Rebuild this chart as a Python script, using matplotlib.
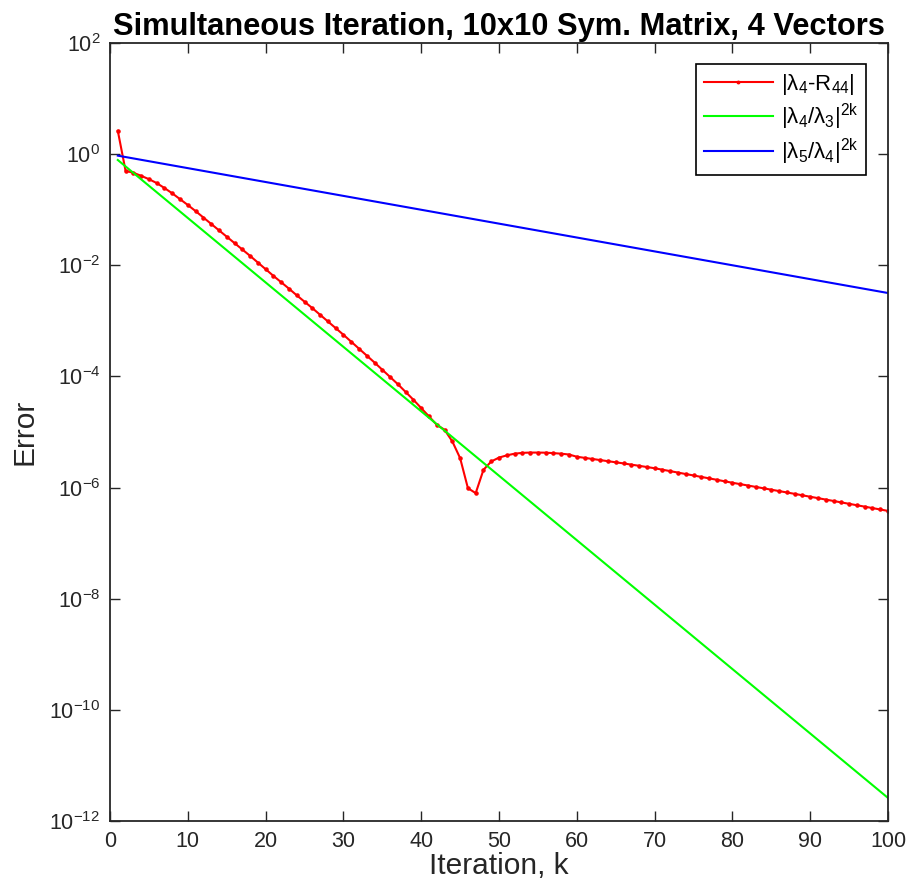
import numpy as np
import matplotlib
matplotlib.use("Agg")
import matplotlib.pyplot as plt

plt.rcParams['font.family'] = ['Liberation Sans', 'DejaVu Sans']
plt.rcParams['mathtext.fontset'] = 'custom'
plt.rcParams['mathtext.rm'] = 'Liberation Sans'
plt.rcParams['mathtext.it'] = 'Liberation Sans:italic'
plt.rcParams['mathtext.bf'] = 'Liberation Sans:bold'

# iterations
k = np.arange(1, 101)

# |lambda_4 - R_44| (log10 do erro), k = 1..100
red_log10 = [
    0.42, -0.30, -0.335, -0.39, -0.45, -0.52, -0.61, -0.705, -0.81, -0.915,
    -1.025, -1.14, -1.255, -1.37, -1.485, -1.60, -1.715, -1.83, -1.95, -2.07,
    -2.19, -2.305, -2.42, -2.54, -2.655, -2.77, -2.89, -3.01, -3.13, -3.25,
    -3.375, -3.50, -3.625, -3.75, -3.88, -4.01, -4.14, -4.28, -4.42, -4.57,
    -4.72, -4.87, -4.96, -5.17, -5.47, -6.01, -6.10, -5.68, -5.53, -5.46,
    -5.42, -5.39, -5.375, -5.37, -5.37, -5.372, -5.38, -5.39, -5.405, -5.445,
    -5.465, -5.485, -5.505, -5.525, -5.545, -5.565, -5.587, -5.608, -5.63, -5.652,
    -5.678, -5.704, -5.73, -5.756, -5.782, -5.808, -5.834, -5.86, -5.887, -5.913,
    -5.938, -5.963, -5.988, -6.013, -6.038, -6.063, -6.088, -6.113, -6.139, -6.165,
    -6.19, -6.216, -6.241, -6.267, -6.292, -6.318, -6.343, -6.369, -6.394, -6.42,
]
red_err = 10.0 ** np.array(red_log10)

# retas de referencia (extremos)
k_ends = [1, 100]
green_err = [0.785, 2.6e-12]
blue_err = [0.94, 3.17e-3]

labels = [
    r'|λ$_\mathrm{4}$-R$_\mathrm{44}$|',
    r'|λ$_\mathrm{4}$/λ$_\mathrm{3}$|$^\mathrm{2k}$',
    r'|λ$_\mathrm{5}$/λ$_\mathrm{4}$|$^\mathrm{2k}$',
]

fig = plt.figure(figsize=(9.07, 8.85), dpi=100)
ax = fig.add_axes([0.1213, 0.0723, 0.8578, 0.8791])

ax.semilogy(k, red_err, '.-', color='#ff0000', lw=1.5, ms=4.5, label=labels[0])
ax.semilogy(k_ends, green_err, '-', color='#00ff00', lw=1.5, label=labels[1])
ax.semilogy(k_ends, blue_err, '-', color='#0000ff', lw=1.5, label=labels[2])

ax.set_xlim(0, 100)
ax.set_ylim(1e-12, 1e2)
ax.set_xticks(np.arange(0, 101, 10))
ax.set_yticks([10.0 ** p for p in range(-12, 3, 2)])
ax.minorticks_off()
ax.tick_params(direction='in', top=True, right=True, length=7, width=1,
               labelsize=15.5, color='#262626', labelcolor='#262626', pad=7)
for s in ax.spines.values():
    s.set_linewidth(1.3)
    s.set_color('#262626')

ax.set_xlabel('Iteration, k', fontsize=21.5, color='#262626', labelpad=0)
ax.set_ylabel('Error', fontsize=21.5, color='#262626', labelpad=8)
ax.set_title('Simultaneous Iteration, 10x10 Sym. Matrix, 4 Vectors',
             fontsize=22.2, fontweight='bold', pad=6)

leg = ax.legend(loc='upper right', fontsize=16, fancybox=False, framealpha=1,
                edgecolor='black', borderpad=0.35, handlelength=3.1,
                handletextpad=0.35, labelspacing=0.22, markerscale=0.8,
                borderaxespad=0, bbox_to_anchor=(0.9717, 0.973))
leg.get_frame().set_linewidth(1.2)

fig.savefig('out.png', dpi=100)
